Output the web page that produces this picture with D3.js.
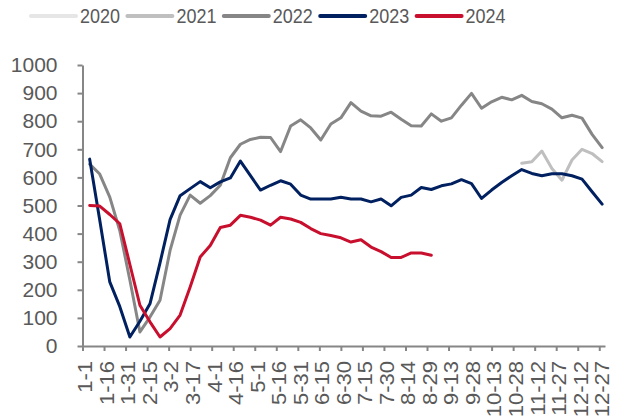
<!DOCTYPE html>
<html>
<head>
<meta charset="utf-8">
<script src="https://cdn.jsdelivr.net/npm/d3@7"></script>
<style>
  body { margin: 0; background: #fff; }
  svg { display: block; }
  text { font-family: "Liberation Sans", Arial, sans-serif; fill: #595959; }
</style>
</head>
<body>
<svg id="chart" width="622" height="418"></svg>
<script>
// Series names and colours
const years = ["2020", "2021", "2022", "2023", "2024"];
const colors = ["#E6E6E6", "#BFBFBF", "#868686", "#002060", "#C8102E"];

// Weekly observation dates (month-day)
const weeks = [
  "1-6","1-13","1-20","1-27","2-3","2-10","2-17","2-24","3-3","3-10","3-17","3-24","3-31",
  "4-7","4-14","4-21","4-28","5-5","5-12","5-19","5-26","6-2","6-9","6-16","6-23","6-30",
  "7-7","7-14","7-21","7-28","8-4","8-11","8-18","8-25","9-1","9-8","9-15","9-22","9-29",
  "10-6","10-13","10-20","10-27","11-3","11-10","11-17","11-24","12-1","12-8","12-15","12-22","12-29"
];

// Axis tick labels
const xTickLabels = [
  "1-1","1-16","1-31","2-15","3-2","3-17","4-1","4-16","5-1","5-16","5-31","6-15","6-30",
  "7-15","7-30","8-14","8-29","9-13","9-28","10-13","10-28","11-12","11-27","12-12","12-27"
];
const yTicks = [0, 100, 200, 300, 400, 500, 600, 700, 800, 900, 1000];

// Weekly values per year (null = no data)
const v2020 = [];
const v2021 = [
  null,null,null,null,null,null,null,null,null,null,null,null,null,
  null,null,null,null,null,null,null,null,null,null,null,null,null,
  null,null,null,null,null,null,null,null,null,null,null,null,null,
  null,null,null,null,650,656,694,632,590,662,700,685,656
];
const v2022 = [
  647,612,530,410,235,50,103,163,340,466,537,508,535,
  572,670,718,735,743,742,692,783,805,776,733,790,812,
  866,836,819,818,832,807,784,783,826,800,812,857,899,
  846,869,885,876,892,870,862,843,812,821,811,753,706
];
const v2023 = [
  665,448,228,140,32,88,150,296,450,535,560,585,563,
  584,598,658,606,555,572,588,576,537,523,523,523,529,
  523,523,513,523,499,529,537,564,557,570,577,592,578,
  525,555,582,606,628,614,606,613,613,606,594,549,505
];
const v2024 = [
  500,498,468,435,290,145,86,32,62,110,210,317,358,
  422,430,465,458,448,430,458,452,440,418,400,393,385,
  370,378,352,336,315,315,331,331,323
];
const seriesValues = [v2020, v2021, v2022, v2023, v2024];

const parseMD = s => { const [m, d] = s.split("-").map(Number); return new Date(2023, m - 1, d); };
const weekDates = weeks.map(parseMD);
const tickDates = xTickLabels.map(parseMD);

const svg = d3.select("#chart");
const axisColor = "#868686";

const x = d3.scaleTime()
  .domain([new Date(2023, 0, 1), new Date(2023, 11, 31)])
  .range([82.5, 605]);
const y = d3.scaleLinear().domain([0, 1000]).range([346, 65]);

// Y axis
const gy = svg.append("g")
  .attr("transform", `translate(${x.range()[0]},0)`)
  .call(d3.axisLeft(y).tickValues(yTicks).tickFormat(d3.format("d"))
    .tickSize(5).tickSizeOuter(0).tickPadding(20));
gy.select(".domain").attr("stroke", axisColor).attr("stroke-width", 2);
gy.selectAll(".tick line").attr("stroke", axisColor).attr("stroke-width", 2);
gy.selectAll(".tick text")
  .attr("font-size", 21).attr("font-family", null).attr("fill", "#595959");

// X axis, labels rotated and read bottom-to-top
const stretch = 1.05;
const gx = svg.append("g")
  .attr("transform", `translate(0,${y(0)})`)
  .call(d3.axisBottom(x).tickValues(tickDates).tickFormat((d, i) => xTickLabels[i])
    .tickSize(5).tickSizeOuter(0));
gx.select(".domain").attr("stroke", axisColor).attr("stroke-width", 2);
gx.selectAll(".tick line").attr("stroke", axisColor).attr("stroke-width", 2);
gx.selectAll(".tick text")
  .attr("font-size", 21).attr("font-family", null).attr("fill", "#595959")
  .attr("transform", `rotate(-90) scale(${stretch},1)`)
  .attr("text-anchor", "end")
  .attr("x", -15 / stretch).attr("y", 2).attr("dy", "0.35em");

// Lines
const line = d3.line()
  .defined(d => d.v != null)
  .x(d => x(d.date))
  .y(d => y(d.v));

seriesValues.forEach((vals, i) => {
  const pts = vals.map((v, k) => ({ date: weekDates[k], v }));
  svg.append("path")
    .datum(pts)
    .attr("fill", "none")
    .attr("stroke", colors[i])
    .attr("stroke-width", 3)
    .attr("stroke-linejoin", "round")
    .attr("stroke-linecap", "round")
    .attr("d", line);
});

// Legend
const legend = svg.append("g");
years.forEach((name, i) => {
  const lx = 31 + i * 96.4;
  legend.append("line")
    .attr("x1", lx).attr("x2", lx + 45)
    .attr("y1", 16).attr("y2", 16)
    .attr("stroke", colors[i]).attr("stroke-width", 4)
    .attr("stroke-linecap", "round");
  legend.append("text")
    .attr("transform", `translate(${lx + 49},22.5) scale(1,1.15)`)
    .attr("font-size", 18)
    .text(name);
});
</script>
</body>
</html>
